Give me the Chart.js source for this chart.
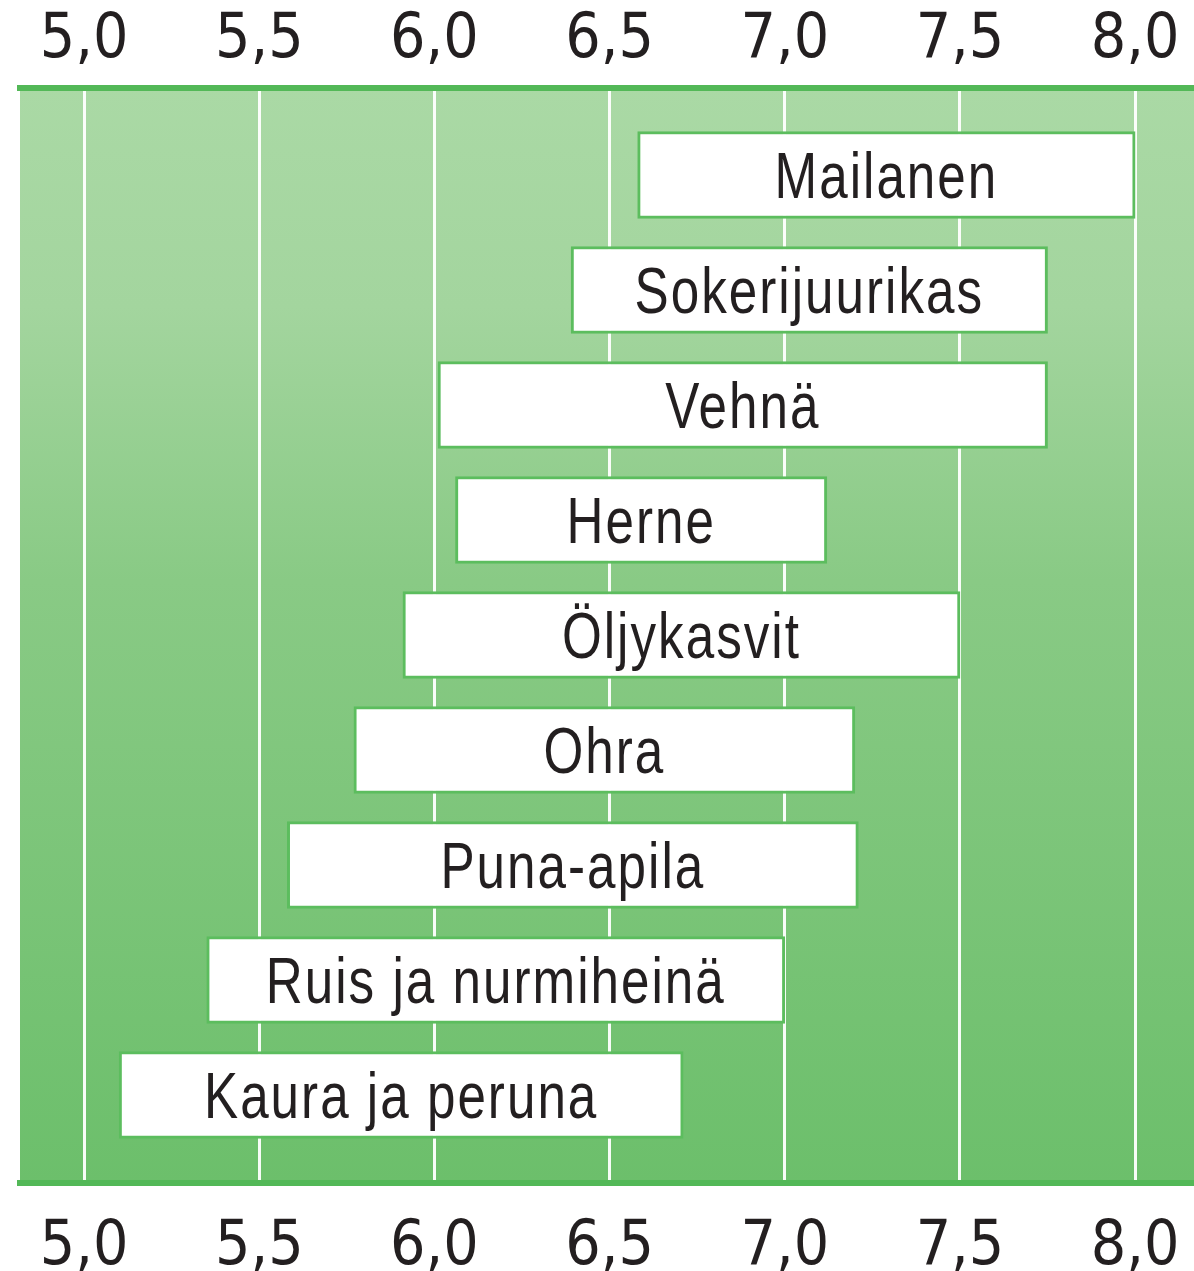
<!DOCTYPE html>
<html>
<head>
<meta charset="utf-8">
<script src="https://cdn.jsdelivr.net/npm/chart.js@4"></script>
<style>
  body { margin: 0; background: #fff; }
  #wrap { width: 1194px; height: 1271px; }
</style>
</head>
<body>
<div id="wrap"><canvas id="phChart"></canvas></div>
<script>
// kasvit ja sopiva pH-alue
var crops = ['Mailanen', 'Sokerijuurikas', 'Vehnä', 'Herne', 'Öljykasvit', 'Ohra', 'Puna-apila', 'Ruis ja nurmiheinä', 'Kaura ja peruna'];
var phLow  = [6.58, 6.39, 6.01, 6.06, 5.91, 5.77, 5.58, 5.35, 5.10];
var phHigh = [8.0, 7.75, 7.75, 7.12, 7.5, 7.2, 7.21, 7.0, 6.71];
var tickValues = [5.0, 5.5, 6.0, 6.5, 7.0, 7.5, 8.0];

var tickFont = '"DejaVu Sans Condensed", "Liberation Sans", sans-serif';
var nameFont = '"Liberation Sans", "DejaVu Sans", sans-serif';
var lineGreen = '#53b857';

var bars = crops.map(function (c, i) {
  return { x: [phLow[i], phHigh[i]], y: i };
});

function fmt(v) {
  return Number(v).toFixed(1).replace('.', ',');
}

// vihreä tausta
var bgPlugin = {
  id: 'bg',
  beforeDraw: function (chart) {
    var a = chart.chartArea, ctx = chart.ctx;
    var g = ctx.createLinearGradient(0, a.top, 0, a.bottom);
    g.addColorStop(0, '#aad9a5');
    g.addColorStop(0.2, '#a3d59e');
    g.addColorStop(0.45, '#89ca85');
    g.addColorStop(1, '#6cbf6b');
    ctx.save();
    ctx.fillStyle = g;
    ctx.fillRect(a.left, a.top, a.right - a.left, a.bottom - a.top);
    ctx.restore();
  }
};

// nimet palkkien keskelle (kapeaksi puristettu fontti)
var namePlugin = {
  id: 'names',
  afterDatasetsDraw: function (chart) {
    var ctx = chart.ctx;
    var meta = chart.getDatasetMeta(0);
    var sx = 0.8;
    ctx.save();
    ctx.font = '64px ' + nameFont;
    ctx.letterSpacing = '2.5px';
    ctx.fillStyle = '#231f20';
    ctx.textAlign = 'center';
    ctx.textBaseline = 'alphabetic';
    meta.data.forEach(function (el, i) {
      var cx = (el.x + el.base) / 2;
      ctx.save();
      ctx.translate(cx, el.y + 23);
      ctx.scale(sx, 1);
      ctx.fillText(crops[i], 0, 0);
      ctx.restore();
    });
    ctx.restore();
  }
};

var xTicks = {
  autoSkip: false,
  maxRotation: 0,
  color: '#231f20',
  font: { size: 62, family: tickFont },
  callback: function (v) { return fmt(v); }
};

function setTicks(axis) {
  axis.ticks = tickValues.map(function (v) { return { value: v }; });
}
function fitAxis(axis) {
  axis.height = 88;
  axis.paddingLeft = 0;
  axis.paddingRight = 0;
}

new Chart('phChart', {
  type: 'bar',
  data: {
    datasets: [{
      data: bars,
      backgroundColor: '#ffffff',
      borderColor: '#5cbd5e',
      borderWidth: 3,
      borderSkipped: false,
      barThickness: 87
    }]
  },
  options: {
    indexAxis: 'y',
    responsive: true,
    maintainAspectRatio: false,
    animation: false,
    layout: { padding: { left: 20, right: 0, top: 0, bottom: 0 } },
    plugins: {
      legend: { display: false },
      tooltip: { enabled: false }
    },
    scales: {
      x: {
        type: 'linear',
        position: 'top',
        min: 4.817,
        max: 8.168,
        afterBuildTicks: setTicks,
        afterFit: fitAxis,
        grid: { color: 'rgba(255,255,255,0.95)', lineWidth: 3, drawTicks: false },
        border: { display: true, color: lineGreen, width: 6 },
        ticks: Object.assign({ padding: 10 }, xTicks)
      },
      x2: {
        type: 'linear',
        position: 'bottom',
        min: 4.817,
        max: 8.168,
        afterBuildTicks: setTicks,
        afterFit: fitAxis,
        grid: { display: false, drawTicks: false },
        border: { display: true, color: lineGreen, width: 6 },
        ticks: Object.assign({ padding: 28 }, xTicks)
      },
      y: {
        type: 'linear',
        display: false,
        reverse: true,
        offset: false,
        min: -0.7565,
        max: 8.765
      }
    }
  },
  plugins: [bgPlugin, namePlugin]
});
</script>
</body>
</html>
